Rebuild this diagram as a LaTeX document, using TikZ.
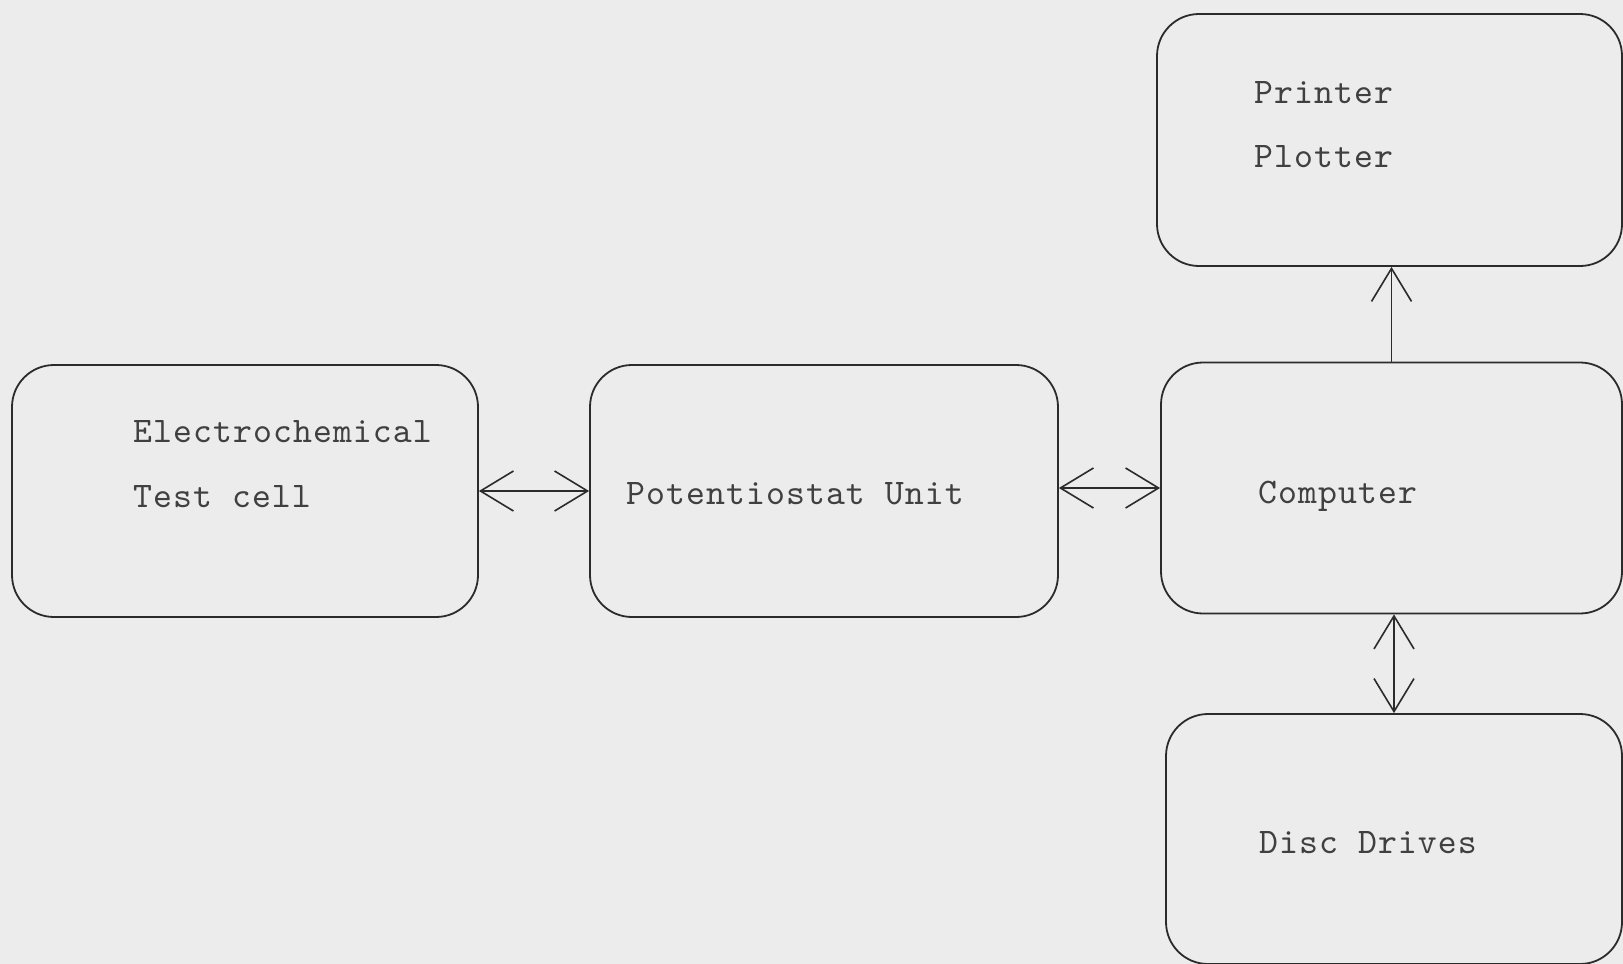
\documentclass[tikz,border=0pt]{standalone}
\usepackage{fontspec}
\usetikzlibrary{arrows.meta}
\newfontfamily\twfont{lmmono10-regular}[Extension=.otf, LetterSpace=3]
\definecolor{paper}{HTML}{ECECEC}
\definecolor{ink}{HTML}{2B2B2B}
\definecolor{typeink}{HTML}{404040}
\begin{document}
\begin{tikzpicture}[x=1pt,y=-1pt,
  box/.style={draw=ink, line width=1.8pt, rounded corners=42pt, inner sep=0pt},
  lbl/.style={anchor=base west, inner sep=0pt, text=typeink, font=\twfont\fontsize{36}{40}\selectfont},
  conn/.style={draw=ink, line width=1.6pt, {Straight Barb[length=33pt,width=40pt,line width=1.6pt]}-{Straight Barb[length=33pt,width=40pt,line width=1.6pt]}},
  conn1/.style={draw=ink, line width=1.6pt, -{Straight Barb[length=33pt,width=40pt,line width=1.6pt]}}]
\fill[paper] (0,0) rectangle (1623,964);
\useasboundingbox (0,0) rectangle (1623,964);
% boxes
\node[box, minimum width=466pt, minimum height=252pt] (ec) at (245,491) {};
\node[box, minimum width=468pt, minimum height=252pt] (pot) at (824,491) {};
\node[box, minimum width=461pt, minimum height=251pt] (comp) at (1391.5,488) {};
\node[box, minimum width=465pt, minimum height=252pt] (prt) at (1389.5,140) {};
\node[box, minimum width=456pt, minimum height=250pt] (disc) at (1394,839) {};
% texts
\node[lbl] (t1) at (133,442) {Electrochemical};
\node[lbl] (t2) at (133,507) {Test cell};
\node[lbl] (t3) at (626,504) {Potentiostat Unit};
\node[lbl] (t4) at (1258,503) {Computer};
\node[lbl] (t5) at (1254,103) {Printer};
\node[lbl] (t6) at (1254,167) {Plotter};
\node[lbl] (t7) at (1259,853) {Disc Drives};
% connectors
\draw[conn] (ec.east) -- (pot.west);
\draw[conn] (comp.west -| pot.east) -- (comp.west);
\draw[conn1] (comp.north) -- (comp.north |- prt.south);
\draw[conn] (disc.north |- comp.south) -- (disc.north);
\end{tikzpicture}
\end{document}
